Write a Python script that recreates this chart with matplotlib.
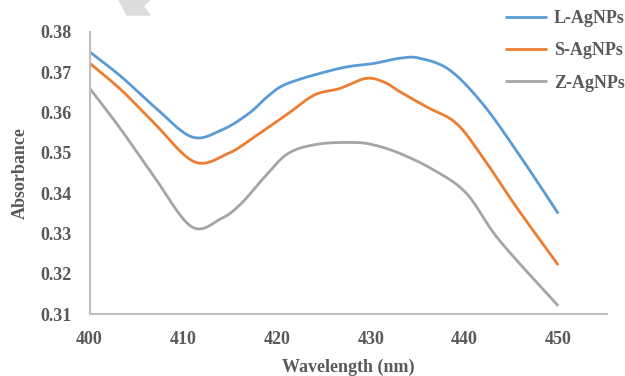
import matplotlib.pyplot as plt
import matplotlib as mpl
import numpy as np
from matplotlib.patches import Polygon

# Absorbance spectra of the three silver nanoparticle samples
wl_L = [400, 403.4, 406.9, 410.9, 414.1, 417, 419, 421.2, 426.7, 430.3, 433.1, 435.2,
        438.4, 441.9, 445.5, 450]
abs_L = [0.3751, 0.3689, 0.3615, 0.3540, 0.3557, 0.3598, 0.3640, 0.3673, 0.3710, 0.3722,
         0.3735, 0.3735, 0.3706, 0.3623, 0.3507, 0.3350]

wl_S = [400, 403.4, 406.9, 411.2, 414.8, 417.6, 421.2, 424, 426.7, 429.5, 431.5, 433.1,
        435.9, 439.1, 441.9, 445.5, 450]
abs_S = [0.3723, 0.3656, 0.3574, 0.3478, 0.3499, 0.3540, 0.3598, 0.3644, 0.3660, 0.3685,
         0.3675, 0.3652, 0.3615, 0.3574, 0.3491, 0.3367, 0.3222]

wl_Z = [400, 403.4, 406.9, 410.9, 414.1, 416.2, 418.7, 421.2, 424.4, 428.2, 430.3, 433.1,
        436.7, 440.2, 443.7, 450]
abs_Z = [0.3661, 0.3557, 0.3441, 0.3317, 0.3338, 0.3375, 0.3441, 0.3499, 0.3522, 0.3526,
         0.3520, 0.3499, 0.3458, 0.3400, 0.3284, 0.3121]

labels = ["L-AgNPs", "S-AgNPs", "Z-AgNPs"]
colors = ["#5B9BD5", "#ED7D31", "#A5A5A5"]
xticks = [400, 410, 420, 430, 440, 450]
yticks = [0.31, 0.32, 0.33, 0.34, 0.35, 0.36, 0.37, 0.38]


def smooth(x, y, n=30):
    # Catmull-Rom curve through the points (spreadsheet style smoothed line)
    pts = np.column_stack([x, y]).astype(float)
    pts = np.vstack([pts[0], pts, pts[-1]])
    t = np.linspace(0, 1, n, endpoint=False)[:, None]
    out = []
    for i in range(1, len(pts) - 2):
        p0, p1, p2, p3 = pts[i - 1], pts[i], pts[i + 1], pts[i + 2]
        out.append(0.5 * (2 * p1 + (-p0 + p2) * t + (2 * p0 - 5 * p1 + 4 * p2 - p3) * t ** 2
                          + (-p0 + 3 * p1 - 3 * p2 + p3) * t ** 3))
    out.append(pts[-1][None, :])
    out = np.vstack(out)
    return out[:, 0], out[:, 1]


text_color = "#595959"
mpl.rcParams["font.family"] = ["Liberation Serif", "DejaVu Serif"]
mpl.rcParams["font.weight"] = "bold"

fig = plt.figure(figsize=(6.25, 3.76), dpi=100)
ax = fig.add_axes([89.5 / 625, 1 - 314.3 / 376, (607 - 89.5) / 625, (314.3 - 32) / 376])

for (wl, ab), lab, col in zip([(wl_L, abs_L), (wl_S, abs_S), (wl_Z, abs_Z)], labels, colors):
    sx, sy = smooth(wl, ab)
    ax.plot(sx, sy, color=col, lw=2.0, label=lab, solid_capstyle="butt")

ax.set_xlim(400, 455.2)
ax.set_ylim(0.31, 0.38)
ax.set_xticks(xticks)
ax.set_yticks(yticks)
ax.set_yticklabels([f"{v:.2f}" for v in yticks])
ax.tick_params(length=0, labelsize=13, colors=text_color, pad=13)
ax.tick_params(axis="x", pad=12)
for s in ["top", "right"]:
    ax.spines[s].set_visible(False)
for s in ["left", "bottom"]:
    ax.spines[s].set_color("#BFBFBF")
    ax.spines[s].set_linewidth(1.5)

ax.set_xlabel("Wavelength (nm)", fontsize=13, color=text_color, fontweight="bold", labelpad=8)
ax.set_ylabel("Absorbance", fontsize=13, color=text_color, fontweight="bold", labelpad=8)

leg = ax.legend(loc="upper left", bbox_to_anchor=(505 / 625, 1 - 10 / 376), bbox_transform=fig.transFigure,
                frameon=False, fontsize=13, handlelength=2.3, handletextpad=0.4, labelspacing=0.85,
                borderaxespad=0, borderpad=0)
for t in leg.get_texts():
    t.set_color(text_color)

# faint watermark fragment at the top edge
fig.patches.append(Polygon([(119 / 625, 1), (127 / 625, 1 - 15 / 376), (150 / 625, 1 - 15 / 376),
                            (143 / 625, 1 - 6 / 376), (150 / 625, 1)], closed=True,
                           transform=fig.transFigure, color="#DCDCDC", zorder=0))

fig.savefig("out.png", dpi=100)
